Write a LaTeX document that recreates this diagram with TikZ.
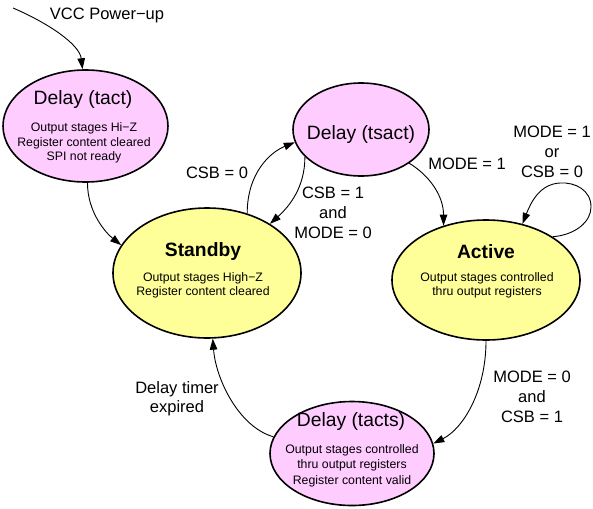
\documentclass[tikz,border=0pt]{standalone}
\usepackage{fontspec}
\setmainfont{Liberation Sans}
\usetikzlibrary{arrows.meta,shapes.geometric}
\definecolor{pinkF}{HTML}{FFCCFF}
\definecolor{yellowF}{HTML}{FFFF99}
\begin{document}
\begin{tikzpicture}[x=1pt,y=-1pt,
  pinkstate/.style={ellipse,draw,line width=1.6pt,fill=pinkF,inner sep=0pt},
  yellowstate/.style={ellipse,draw,line width=1.6pt,fill=yellowF,inner sep=0pt},
  titletext/.style={font=\fontsize{19.3}{23}\selectfont,inner sep=0pt},
  boldtitle/.style={font=\fontsize{19.3}{23}\selectfont\bfseries,inner sep=0pt},
  bodytext/.style={font=\fontsize{12.3}{14.6}\selectfont,align=center,inner sep=0pt},
  labeltext/.style={font=\fontsize{16.5}{20}\selectfont,align=center,inner sep=0pt},
  conn/.style={line width=0.9pt,-{Triangle[length=11pt,width=7.5pt]}}]
\useasboundingbox (0,0) rectangle (593,508);

% states
\node[pinkstate,minimum width=165pt,minimum height=112pt] (tact) at (85.5,126) {};
\node[pinkstate,minimum width=136pt,minimum height=93pt] (tsact) at (361,129.5) {};
\node[yellowstate,minimum width=188pt,minimum height=130pt] (sb) at (207,273) {};
\node[yellowstate,minimum width=188pt,minimum height=120pt] (act) at (486,280) {};
\node[pinkstate,minimum width=164pt,minimum height=104pt] (tacts) at (352,453.5) {};

% state texts
\node[titletext] (tactT) at (83,100) {Delay (tact)};
\node[bodytext] (tactB) at (84,143) {Output stages Hi−Z\\Register content cleared\\SPI not ready};
\node[titletext] (tsactT) at (361,135) {Delay (tsact)};
\node[boldtitle] (sbT) at (203,252) {Standby};
\node[bodytext,font=\fontsize{12.3}{13.6}\selectfont] (sbB) at (203,285.5) {Output stages High−Z\\Register content cleared};
\node[boldtitle] (actT) at (486,252) {Active};
\node[bodytext,font=\fontsize{12.3}{14}\selectfont] (actB) at (487,285) {Output stages controlled\\thru output registers};
\node[titletext] (tactsT) at (351,422) {Delay (tacts)};
\node[bodytext,font=\fontsize{12.3}{15.5}\selectfont] (tactsB) at (352,465.5) {Output stages controlled\\thru output registers\\Register content valid};

% labels
\node[labeltext] (lvcc) at (107,15) {VCC Power−up};
\node[labeltext] (l1) at (217,173) {CSB = 0};
\node[labeltext] (l2) at (333,213) {CSB = 1\\and\\MODE = 0};
\node[labeltext] (l3) at (467,164) {MODE = 1};
\node[labeltext] (l4) at (552,152) {MODE = 1\\or\\CSB = 0};
\node[labeltext,font=\fontsize{16.5}{19}\selectfont] (l5) at (177,398.5) {Delay timer\\expired};
\node[labeltext] (l6) at (532,397) {MODE = 0\\and\\CSB = 1};

% connectors
\coordinate (vcc) at (13,8);
\draw[conn] (vcc) .. controls +(35,15) and +(-3,-25) .. (tact.93);
\draw[conn] (tact.272) .. controls +(0,30) and +(-15,-12) .. (sb.162);
\draw[conn] (sb.56) .. controls +(0,-40) and +(-25,10) .. (tsact.191);
\draw[conn] (tsact.206) .. controls +(0,30) and +(20,-18) .. (sb.38);
\draw[conn] (tsact.325) .. controls +(20,12) and +(0,-30) .. (act.128);
\draw[conn] (act.33) .. controls (575,235) and (591,222) .. (591,207)
  .. controls (591,190) and (575,182) .. (560,183)
  .. controls (540,184) and (531,202) .. (act.57);
\draw[conn] (act.270) .. controls +(0,50) and +(30,-15) .. (tacts.7);
\draw[conn] (tacts.168) .. controls +(-35,-10) and +(3,40) .. (sb.275);
\end{tikzpicture}
\end{document}
